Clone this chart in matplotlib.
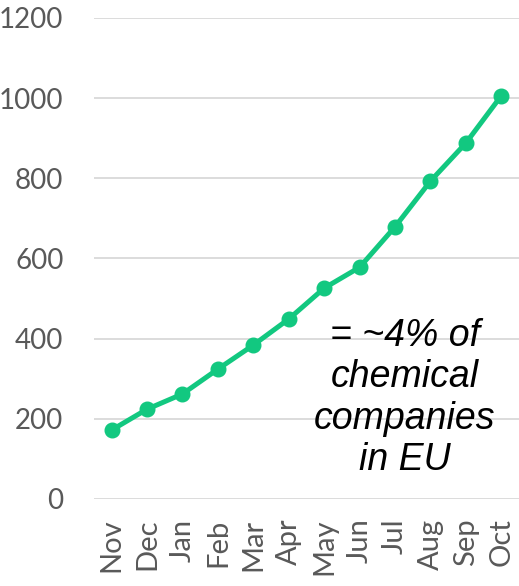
"""Monthly count line chart with annotation."""

import matplotlib
matplotlib.use("Agg")
import matplotlib.pyplot as plt

months = ["Nov", "Dec", "Jan", "Feb", "Mar", "Apr", "May", "Jun", "Jul", "Aug", "Sep", "Oct"]
counts = [172, 224, 262, 324, 384, 449, 526, 578, 679, 793, 888, 1006]
y_ticks = [0, 200, 400, 600, 800, 1000, 1200]
note = "= ~4% of\nchemical\ncompanies\nin EU"


def main():
    fig = plt.figure(figsize=(5.19, 5.86), dpi=100)
    ax = fig.add_axes([0.181, 0.1485, 0.819, 0.8208])

    x = list(range(len(months)))
    ax.plot(x, counts, color="#12C880", linewidth=3.6, marker="o",
            markersize=10.5, solid_capstyle="round", zorder=3)

    # axes and grid
    ax.set_xlim(-0.5, len(months) - 0.5)
    ax.set_ylim(0, 1200)
    ax.set_yticks(y_ticks)
    ax.set_xticks(x)
    ax.set_xticklabels(months, rotation=90)
    ax.grid(axis="y", color="#D9D9D9", linewidth=1.3)
    ax.set_axisbelow(True)
    for side in ["top", "right", "left", "bottom"]:
        ax.spines[side].set_visible(False)
    ax.tick_params(length=0, labelcolor="#595959", labelsize=21)
    ax.tick_params(axis="y", pad=22, labelsize=20)
    ax.tick_params(axis="x", pad=14)
    for lbl in ax.get_xticklabels() + ax.get_yticklabels():
        lbl.set_family("Lato")

    ax.text(8.28, 252, note, ha="center", va="center", fontsize=27,
            style="italic", family="Liberation Sans", color="black",
            linespacing=1.2)

    fig.savefig("out.png", dpi=100)


if __name__ == "__main__":
    main()
